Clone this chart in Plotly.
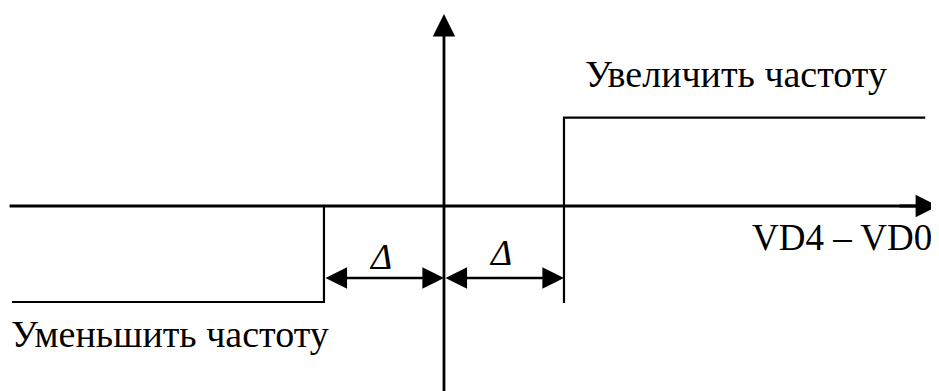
"""Hysteresis-style frequency control diagram (VD4 - VD0)."""
import plotly.graph_objects as go

# diagram values (x in units of delta, y in units of the low level)
delta = 1.0
level_high = 0.92
level_low = -1.0
arrow_y = -0.75
x_left_end = -3.6
x_right_end = 4.01

step_low_x = [x_left_end, -delta, -delta]
step_low_y = [level_low, level_low, 0.0]
step_high_x = [delta, delta, x_right_end]
step_high_y = [level_low - 0.01, level_high, level_high]

labels = {
    "up": "Увеличить частоту",
    "down": "Уменьшить частоту",
    "axis": "VD4 – VD0",
    "delta": "Δ",
}

FONT = "Liberation Serif, Times New Roman, serif"
BLACK = "#000000"

fig = go.Figure()
fig.add_trace(go.Scatter(x=step_low_x, y=step_low_y, mode="lines",
                         line=dict(color=BLACK, width=2.2), hoverinfo="skip"))
fig.add_trace(go.Scatter(x=step_high_x, y=step_high_y, mode="lines",
                         line=dict(color=BLACK, width=2.2), hoverinfo="skip"))

# horizontal axis: line up to the right edge, arrow head at the edge
fig.add_shape(type="line", xref="x", yref="y", x0=-3.62, x1=4.1, y0=0, y1=0,
              line=dict(color=BLACK, width=2.8))
fig.add_annotation(x=0.999, y=0, xref="paper", yref="y", ax=-40, ay=0,
                   showarrow=True, arrowhead=2, arrowsize=1.6, arrowwidth=2.8, arrowcolor=BLACK, text="")
# vertical axis
fig.add_annotation(x=0, y=2.0, ax=0, ay=-1.95, xref="x", yref="y", axref="x", ayref="y",
                   showarrow=True, arrowhead=2, arrowsize=1.6, arrowwidth=2.8, arrowcolor=BLACK, text="")

# delta dimension arrows
for x0, x1 in [(-delta, 0.0), (0.0, delta)]:
    fig.add_annotation(x=x1, y=arrow_y, ax=x0, ay=arrow_y, xref="x", yref="y", axref="x", ayref="y",
                       showarrow=True, arrowhead=2, startarrowhead=2, arrowside="end+start",
                       arrowsize=1.8, startarrowsize=1.8, arrowwidth=2.4, arrowcolor=BLACK, text="")

text_font = dict(family=FONT, size=38, color=BLACK)
fig.add_annotation(x=1.167, y=1.37, text=labels["up"], showarrow=False, xanchor="left",
                   yanchor="middle", borderpad=0, font=text_font)
fig.add_annotation(x=-3.617, y=-1.33, text=labels["down"], showarrow=False, xanchor="left",
                   yanchor="middle", borderpad=0, font=text_font)
fig.add_annotation(x=4.075, y=-0.33, text=labels["axis"], showarrow=False, xanchor="right",
                   yanchor="middle", borderpad=0, font=dict(family=FONT, size=37, color=BLACK))
for xc, yc in [(-0.53, -0.53), (0.47, -0.49)]:
    fig.add_annotation(x=xc, y=yc, text="<i>" + labels["delta"] + "</i>", showarrow=False,
                       xanchor="center", yanchor="middle", borderpad=0,
                       font=dict(family=FONT, size=36, color=BLACK))

# the page body keeps its default 8px margin, so the figure is 8px smaller
fig.update_xaxes(range=[-3.633, 4.125], visible=False, fixedrange=True)
fig.update_yaxes(range=[-1.927, 2.0625], visible=False, fixedrange=True)
fig.update_layout(width=931, height=383, autosize=False, showlegend=False,
                  margin=dict(l=0, r=0, t=0, b=0),
                  paper_bgcolor="white", plot_bgcolor="white")

fig.write_html("out.html")
